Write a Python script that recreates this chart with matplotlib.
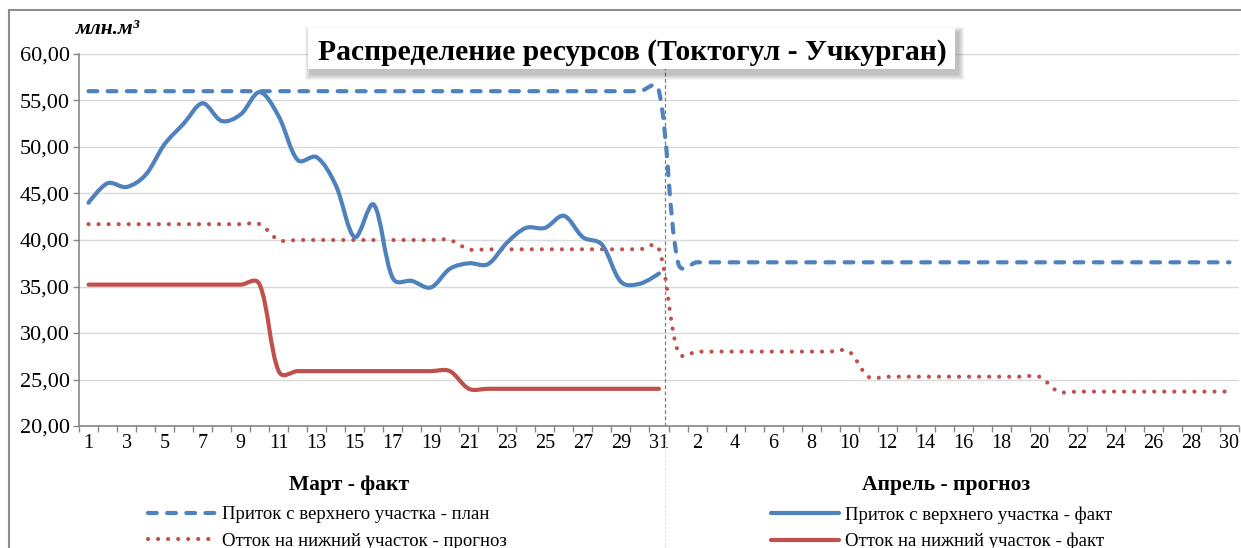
import numpy as np
import matplotlib
matplotlib.use("Agg")
import matplotlib.pyplot as plt
from matplotlib.path import Path
from matplotlib.patches import PathPatch, Rectangle
from matplotlib.lines import Line2D

plt.rcParams["font.family"] = ["Liberation Serif", "DejaVu Serif"]

BLUE = "#4F81BD"
RED = "#C0504D"
W, H = 1241, 548

# data, million m3 per day (March fact + April forecast)
march_days = list(range(1, 32))
april_days = list(range(1, 31))
day_labels = [str(d) for d in march_days] + [str(d) for d in april_days]

inflow_plan = [
    56.0, 56.0, 56.0, 56.0, 56.0, 56.0, 56.0, 56.0, 56.0, 56.0,
    56.0, 56.0, 56.0, 56.0, 56.0, 56.0, 56.0, 56.0, 56.0, 56.0,
    56.0, 56.0, 56.0, 56.0, 56.0, 56.0, 56.0, 56.0, 56.0, 56.0, 56.0,
    37.6, 37.6, 37.6, 37.6, 37.6, 37.6, 37.6, 37.6, 37.6, 37.6,
    37.6, 37.6, 37.6, 37.6, 37.6, 37.6, 37.6, 37.6, 37.6, 37.6,
    37.6, 37.6, 37.6, 37.6, 37.6, 37.6, 37.6, 37.6, 37.6, 37.6,
]
outflow_forecast = [
    41.7, 41.7, 41.7, 41.7, 41.7, 41.7, 41.7, 41.7, 41.7, 41.7,
    40.0, 40.0, 40.0, 40.0, 40.0, 40.0, 40.0, 40.0, 40.0, 40.0,
    39.0, 39.0, 39.0, 39.0, 39.0, 39.0, 39.0, 39.0, 39.0, 39.0, 39.0,
    28.0, 28.0, 28.0, 28.0, 28.0, 28.0, 28.0, 28.0, 28.0, 28.0,
    25.3, 25.3, 25.3, 25.3, 25.3, 25.3, 25.3, 25.3, 25.3, 25.3,
    23.7, 23.7, 23.7, 23.7, 23.7, 23.7, 23.7, 23.7, 23.7, 23.7,
]
inflow_fact = [
    44.0, 46.1, 45.7, 47.0, 50.3, 52.5, 54.7, 52.8, 53.5, 55.9,
    53.3, 48.6, 48.9, 45.9, 40.3, 43.8, 35.9, 35.6, 34.9, 36.9,
    37.5, 37.4, 39.7, 41.3, 41.3, 42.6, 40.3, 39.5, 35.5, 35.3, 36.4,
]
outflow_fact = [
    35.2, 35.2, 35.2, 35.2, 35.2, 35.2, 35.2, 35.2, 35.2, 35.2,
    25.9, 25.9, 25.9, 25.9, 25.9, 25.9, 25.9, 25.9, 25.9, 25.9,
    24.0, 24.0, 24.0, 24.0, 24.0, 24.0, 24.0, 24.0, 24.0, 24.0, 24.0,
]

y_ticks = [20, 25, 30, 35, 40, 45, 50, 55, 60]


def fx(px):
    return px / W


def fy(py):
    return 1 - py / H


def smooth_path(ax, ys):
    # smoothed line like a spreadsheet "smoothed line", built in pixel space
    xs = np.arange(len(ys))
    pts = ax.transData.transform(np.column_stack([xs, ys]))
    n = len(pts)
    c_in = pts.copy()
    c_out = pts.copy()
    for i in range(1, n - 1):
        d1 = np.sqrt(np.hypot(*(pts[i] - pts[i - 1])))
        d2 = np.sqrt(np.hypot(*(pts[i + 1] - pts[i])))
        t = pts[i + 1] - pts[i - 1]
        c_in[i] = pts[i] - t * d1 / (d1 + d2) / 3
        c_out[i] = pts[i] + t * d2 / (d1 + d2) / 3
    verts = [pts[0]]
    codes = [Path.MOVETO]
    for i in range(n - 1):
        verts += [c_out[i], c_in[i + 1], pts[i + 1]]
        codes += [Path.CURVE4] * 3
    verts = ax.transData.inverted().transform(np.array(verts))
    return Path(verts, codes)


fig = plt.figure(figsize=(W / 100, H / 100), dpi=100)
ax = fig.add_axes([fx(79), fy(426), fx(1239) - fx(79), fy(54) - fy(426)])

n_cat = len(day_labels)
ax.set_xlim(-0.5, n_cat - 0.5)
ax.set_ylim(20, 60)

ax.set_yticks(y_ticks)
ax.set_yticklabels([f"{v:.2f}".replace(".", ",") for v in y_ticks])
ax.set_xticks(range(0, n_cat, 2))
ax.set_xticklabels(day_labels[::2])
ax.set_xticks(np.arange(-0.5, n_cat, 1), minor=True)
ax.tick_params(axis="x", which="major", length=0, pad=6, labelsize=14.5)
ax.tick_params(axis="x", which="minor", length=4.5, width=1, color="#868686")
ax.tick_params(axis="y", length=4.5, width=1, color="#868686", pad=2, labelsize=16)

ax.grid(axis="y", color="#d9d9d9", linewidth=1)
ax.set_axisbelow(True)
for side in ["top", "right"]:
    ax.spines[side].set_visible(False)
for side in ["left", "bottom"]:
    ax.spines[side].set_color("#868686")
    ax.spines[side].set_linewidth(1.2)

dash_style = (0, (2.1, 2.5))
dot_style = (0, (0.01, 2.4))

ax.add_patch(PathPatch(smooth_path(ax, inflow_plan), fill=False, edgecolor=BLUE,
                       linewidth=3, linestyle=dash_style, capstyle="round",
                       joinstyle="round", zorder=3))
ax.add_patch(PathPatch(smooth_path(ax, outflow_forecast), fill=False, edgecolor=RED,
                       linewidth=3, linestyle=dot_style, capstyle="round",
                       joinstyle="round", zorder=3))
ax.add_patch(PathPatch(smooth_path(ax, inflow_fact), fill=False, edgecolor=BLUE,
                       linewidth=3, capstyle="round", joinstyle="round", zorder=4))
ax.add_patch(PathPatch(smooth_path(ax, outflow_fact), fill=False, edgecolor=RED,
                       linewidth=3, capstyle="round", joinstyle="round", zorder=4))

# March / April separator
ax.axvline(30.3, color="#7f7f7f", linewidth=0.9, linestyle=(0, (3, 2)), zorder=5)
fig.add_artist(Line2D([fx(665), fx(665)], [fy(434), 0], transform=fig.transFigure,
                      color="#e6e6e6", linewidth=1, linestyle=(0, (2, 1))))

# outer chart frame
fig.add_artist(Line2D([fx(9), fx(9)], [fy(10), 0], transform=fig.transFigure,
                      color="#8c8c8c", linewidth=1.5))
fig.add_artist(Line2D([fx(9), 1], [fy(10), fy(10)], transform=fig.transFigure,
                      color="#8c8c8c", linewidth=1.5))

# title box with soft shadow
bx0, by0, bx1, by1 = 308, 28, 955, 69
for k in range(6):
    grow = 6 - k
    fig.add_artist(Rectangle((fx(bx0 + 3 - grow), fy(by1 + 5 + grow)),
                             fx(bx1 - bx0 + 2 * grow), fy(by0) - fy(by1) + 2 * grow / H,
                             transform=fig.transFigure, facecolor="#000000",
                             edgecolor="none", alpha=0.045, zorder=6))
fig.add_artist(Rectangle((fx(bx0), fy(by1)), fx(bx1 - bx0), fy(by0) - fy(by1),
                         transform=fig.transFigure, facecolor="white",
                         edgecolor="none", zorder=7))
fig.text(fx(632), fy(52), "Распределение ресурсов (Токтогул - Учкурган)",
         ha="center", va="center", fontsize=21.3, fontweight="bold", zorder=8)

fig.text(fx(76), fy(29), "млн.м³", ha="left", va="center", fontsize=15.5,
         fontweight="bold", fontstyle="italic")

fig.text(fx(349), fy(485), "Март - факт", ha="center", va="center",
         fontsize=15.5, fontweight="bold")
fig.text(fx(946), fy(485), "Апрель - прогноз", ha="center", va="center",
         fontsize=15.5, fontweight="bold")

# legends
h_plan = Line2D([], [], color=BLUE, linewidth=3, linestyle=dash_style,
                dash_capstyle="round")
h_fore = Line2D([], [], color=RED, linewidth=3, linestyle=dot_style,
                dash_capstyle="round")
h_in = Line2D([], [], color=BLUE, linewidth=3, solid_capstyle="round")
h_out = Line2D([], [], color=RED, linewidth=3, solid_capstyle="round")

leg_kw = dict(loc="upper left", frameon=False, fontsize=13.5, handlelength=3.6,
              handletextpad=0.35, labelspacing=0.5, borderpad=0, borderaxespad=0)
leg1 = fig.legend([h_plan, h_fore],
                  ["Приток с верхнего участка - план", "Отток на нижний участок - прогноз"],
                  bbox_to_anchor=(fx(148), fy(506)), **leg_kw)
leg2 = fig.legend([h_in, h_out],
                  ["Приток с верхнего участка - факт", "Отток на нижний участок - факт"],
                  bbox_to_anchor=(fx(771), fy(506)), **leg_kw)

fig.savefig("out.png", dpi=100)
